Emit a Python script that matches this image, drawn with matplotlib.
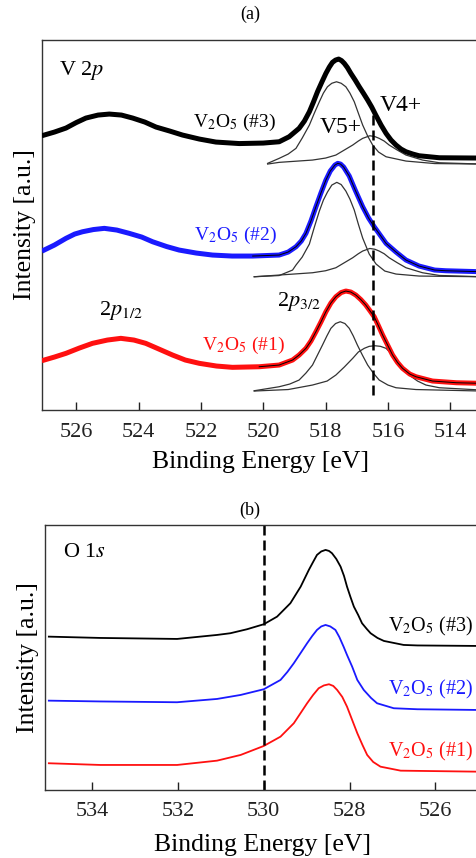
import numpy as np
from matplotlib import pyplot as plt

plt.rcParams["font.family"] = ["Liberation Serif", "DejaVu Serif"]
plt.rcParams["mathtext.fontset"] = "stix"

# ---- (a) V 2p: measured spectra (binding energy [eV], intensity [a.u.])
v2p_e_s3 = [527.03, 526.70, 526.33, 526.00, 525.69, 525.30, 524.94, 524.55,
            524.19, 523.80, 523.44, 523.00, 522.59, 522.05, 521.52, 520.77,
            520.00, 519.49, 519.17, 518.85, 518.68, 518.52, 518.39, 518.26,
            518.12, 517.99, 517.88, 517.78, 517.68, 517.58, 517.49, 517.40,
            517.30, 517.19, 517.05, 516.92, 516.79, 516.65, 516.52, 516.39,
            516.22, 516.06, 515.90, 515.74, 515.58, 515.42, 515.20, 515.00,
            514.35, 513.00]
v2p_i_s3 = [2.75, 2.78, 2.82, 2.875, 2.92, 2.95, 2.96, 2.95,
            2.92, 2.88, 2.83, 2.79, 2.75, 2.71, 2.68, 2.665,
            2.67, 2.683, 2.733, 2.817, 2.89, 2.983, 3.08, 3.183,
            3.28, 3.367, 3.43, 3.477, 3.50, 3.51, 3.495, 3.467,
            3.425, 3.367, 3.30, 3.233, 3.17, 3.10, 3.03, 2.95,
            2.85, 2.767, 2.70, 2.65, 2.61, 2.583, 2.56, 2.543,
            2.523, 2.52]

v2p_e_s2 = [527.03, 526.70, 526.33, 526.05, 525.80, 525.45, 525.10, 524.70,
            524.30, 523.90, 523.55, 523.10, 522.70, 522.15, 521.63, 521.00,
            520.34, 519.49, 519.20, 518.95, 518.78, 518.63, 518.47, 518.31,
            518.15, 517.99, 517.85, 517.70, 517.61, 517.52, 517.42, 517.24,
            517.05, 516.81, 516.62, 516.44, 516.25, 516.06, 515.74, 515.42,
            515.00, 514.50, 514.14, 513.00]
v2p_i_s2 = [1.60, 1.65, 1.717, 1.76, 1.783, 1.805, 1.817, 1.80,
            1.767, 1.73, 1.683, 1.635, 1.60, 1.57, 1.55, 1.54,
            1.54, 1.55, 1.58, 1.633, 1.69, 1.767, 1.89, 2.033,
            2.17, 2.30, 2.39, 2.45, 2.467, 2.46, 2.43, 2.34,
            2.20, 2.033, 1.92, 1.833, 1.75, 1.667, 1.58, 1.50,
            1.44, 1.40, 1.393, 1.383]

v2p_e_s1 = [527.03, 526.70, 526.33, 525.90, 525.48, 525.00, 524.57, 524.15,
            523.77, 523.35, 522.91, 522.50, 522.05, 521.50, 520.99, 520.13,
            519.49, 519.06, 518.85, 518.63, 518.47, 518.31, 518.15, 517.99,
            517.83, 517.67, 517.50, 517.35, 517.19, 517.03, 516.87, 516.71,
            516.57, 516.44, 516.30, 516.17, 516.01, 515.85, 515.69, 515.53,
            515.30, 515.10, 514.57, 513.80, 513.00]
v2p_i_s1 = [0.50, 0.53, 0.567, 0.62, 0.667, 0.70, 0.717, 0.70,
            0.667, 0.61, 0.55, 0.50, 0.467, 0.44, 0.427, 0.433,
            0.45, 0.50, 0.55, 0.617, 0.69, 0.783, 0.88, 0.983,
            1.07, 1.133, 1.175, 1.19, 1.18, 1.15, 1.105, 1.05,
            0.99, 0.933, 0.84, 0.75, 0.65, 0.55, 0.475, 0.417,
            0.36, 0.333, 0.29, 0.273, 0.267]

# fitted components: V5+ and V4+
v5_e_s3 = [519.86, 519.49, 519.20, 518.95, 518.75, 518.52, 518.36, 518.20,
           518.07, 517.94, 517.80, 517.65, 517.50, 517.35, 517.22, 517.08,
           516.95, 516.81, 516.65, 516.49, 516.30, 516.06, 515.42, 514.50,
           513.00]
v5_i_s3 = [2.467, 2.517, 2.56, 2.617, 2.72, 2.85, 2.97, 3.083,
           3.17, 3.233, 3.268, 3.283, 3.268, 3.233, 3.17, 3.083,
           2.97, 2.85, 2.74, 2.65, 2.58, 2.533, 2.49, 2.465,
           2.46]
v4_e_s3 = [519.86, 519.49, 518.42, 518.00, 517.67, 517.40, 517.13, 516.95,
           516.81, 516.58, 516.42, 516.28, 516.12, 515.96, 515.70, 515.42,
           514.89, 514.35, 513.00]
v4_i_s3 = [2.46, 2.477, 2.50, 2.52, 2.55, 2.60, 2.65, 2.69,
           2.717, 2.743, 2.735, 2.717, 2.69, 2.65, 2.60, 2.55,
           2.50, 2.473, 2.46]

v5_e_s2 = [520.29, 519.49, 519.06, 518.95, 518.75, 518.52, 518.36, 518.20,
           518.07, 517.94, 517.80, 517.64, 517.50, 517.35, 517.22, 517.08,
           516.95, 516.81, 516.60, 516.38, 516.10, 515.74, 515.00, 513.00]
v5_i_s2 = [1.333, 1.345, 1.40, 1.45, 1.53, 1.66, 1.83, 1.99,
           2.10, 2.18, 2.25, 2.277, 2.255, 2.19, 2.11, 2.00,
           1.86, 1.72, 1.56, 1.46, 1.39, 1.36, 1.34, 1.333]
v4_e_s2 = [520.29, 519.49, 518.42, 518.00, 517.67, 517.40, 517.13, 516.95,
           516.81, 516.58, 516.42, 516.28, 516.12, 515.96, 515.70, 515.42,
           514.89, 514.35, 513.00]
v4_i_s2 = [1.333, 1.35, 1.373, 1.393, 1.423, 1.473, 1.523, 1.563,
           1.59, 1.616, 1.608, 1.59, 1.563, 1.523, 1.473, 1.423,
           1.373, 1.346, 1.333]

v5_e_s1 = [520.29, 519.49, 519.15, 518.85, 518.63, 518.42, 518.26, 518.10,
           517.96, 517.83, 517.68, 517.53, 517.38, 517.24, 517.11, 516.98,
           516.82, 516.65, 516.47, 516.28, 516.00, 515.74, 515.10, 513.00]
v5_i_s1 = [0.193, 0.233, 0.26, 0.30, 0.37, 0.45, 0.55, 0.65,
           0.74, 0.817, 0.865, 0.883, 0.865, 0.817, 0.74, 0.65,
           0.55, 0.45, 0.37, 0.30, 0.25, 0.223, 0.205, 0.19]
v4_e_s1 = [520.29, 519.20, 518.42, 517.95, 517.67, 517.40, 517.13, 516.95,
           516.76, 516.60, 516.42, 516.24, 516.06, 515.90, 515.74, 515.53,
           515.32, 515.05, 514.78, 514.35, 513.00]
v4_i_s1 = [0.19, 0.205, 0.25, 0.29, 0.35, 0.43, 0.517, 0.58,
           0.617, 0.637, 0.643, 0.637, 0.617, 0.565, 0.50, 0.42,
           0.35, 0.29, 0.25, 0.223, 0.20]

v4_line_e = 516.47
v4_line_span = (0.15, 2.97)

# ---- (b) O 1s
o1s_e_s3 = [535.01, 533.81, 532.02, 531.09, 530.78, 530.39, 530.00, 529.69,
            529.38, 529.14, 528.95, 528.85, 528.76, 528.66, 528.56, 528.48,
            528.41, 528.31, 528.21, 528.13, 528.06, 527.98, 527.90, 527.80,
            527.71, 527.60, 527.51, 527.35, 527.20, 526.74, 526.42, 525.03]
o1s_i_s3 = [1.533, 1.52, 1.51, 1.55, 1.567, 1.607, 1.657, 1.733,
            1.867, 2.033, 2.20, 2.28, 2.35, 2.385, 2.40, 2.39,
            2.367, 2.31, 2.233, 2.14, 2.033, 1.93, 1.833, 1.75,
            1.667, 1.61, 1.567, 1.52, 1.49, 1.45, 1.445, 1.44]
o1s_e_s2 = [535.01, 533.81, 532.02, 531.09, 530.54, 530.00, 529.61, 529.45,
            529.30, 529.14, 528.99, 528.87, 528.76, 528.66, 528.56, 528.45,
            528.33, 528.24, 528.14, 528.06, 527.94, 527.82, 527.67, 527.50,
            527.36, 526.97, 526.42, 525.03]
o1s_i_s2 = [0.893, 0.885, 0.877, 0.91, 0.95, 1.007, 1.10, 1.18,
            1.267, 1.37, 1.467, 1.54, 1.60, 1.635, 1.65, 1.635,
            1.60, 1.53, 1.433, 1.35, 1.233, 1.10, 1.00, 0.92,
            0.867, 0.817, 0.807, 0.80]
o1s_e_s1 = [535.01, 533.81, 532.02, 531.09, 530.54, 530.00, 529.61, 529.30,
            529.14, 528.99, 528.85, 528.72, 528.60, 528.48, 528.38, 528.29,
            528.17, 528.06, 527.94, 527.82, 527.70, 527.59, 527.45, 527.28,
            526.81, 525.03]
o1s_i_s1 = [0.267, 0.25, 0.25, 0.293, 0.35, 0.44, 0.533, 0.667,
            0.77, 0.867, 0.95, 1.017, 1.045, 1.057, 1.04, 1.00,
            0.93, 0.833, 0.70, 0.567, 0.45, 0.35, 0.28, 0.233,
            0.193, 0.183]
o1s_line_e = 530.0

sample_labels = [r"V$_2$O$_5$ (#1)", r"V$_2$O$_5$ (#2)", r"V$_2$O$_5$ (#3)"]
sample_colors = ["#ff1010", "#1a1aff", "black"]

fig = plt.figure(figsize=(4.77, 8.58), dpi=100)
ax_a = fig.add_axes([0.088, 0.5221, 0.918, 0.4312])
ax_b = fig.add_axes([0.0943, 0.0793, 0.912, 0.3089])

# (a)
spectra = [(v2p_e_s1, v2p_i_s1), (v2p_e_s2, v2p_i_s2), (v2p_e_s3, v2p_i_s3)]
for (e, i), color in zip(spectra, sample_colors):
    ax_a.plot(e, i, color=color, lw=3.6, solid_joinstyle="round", zorder=3)
    e = np.array(e)
    mask = e <= 520.4
    ax_a.plot(e[mask], np.array(i)[mask], color="black", lw=0.7, zorder=4)

comps = [(v5_e_s1, v5_i_s1), (v4_e_s1, v4_i_s1),
         (v5_e_s2, v5_i_s2), (v4_e_s2, v4_i_s2),
         (v5_e_s3, v5_i_s3), (v4_e_s3, v4_i_s3)]
for e, i in comps:
    ax_a.plot(e, i, color="#333333", lw=0.9, zorder=2)

ax_a.vlines(v4_line_e, *v4_line_span, colors="black", linestyles=(0, (4, 2)),
            lw=1.8, zorder=5)

ax_a.text(526.55, 3.40, r"V 2$p$", fontsize=16, va="center")
ax_a.text(520.93, 2.88, sample_labels[2], fontsize=14, ha="center",
          va="center", color=sample_colors[2])
ax_a.text(520.9, 1.75, sample_labels[1], fontsize=14, ha="center",
          va="center", color=sample_colors[1])
ax_a.text(520.64, 0.65, sample_labels[0], fontsize=14, ha="center",
          va="center", color=sample_colors[0])
ax_a.text(517.53, 2.83, "V5+", fontsize=17, ha="center", va="center")
ax_a.text(515.6, 3.05, "V4+", fontsize=17, ha="center", va="center")
ax_a.text(524.56, 1.0, r"2$p_{1/2}$", fontsize=16, ha="center", va="center")
ax_a.text(518.85, 1.09, r"2$p_{3/2}$", fontsize=16, ha="center", va="center")

ax_a.set_xlim(527.1, 513.05)
ax_a.set_ylim(0, 3.7)
ax_a.set_xticks([526, 524, 522, 520, 518, 516, 514])

# (b)
o1s = [(o1s_e_s1, o1s_i_s1), (o1s_e_s2, o1s_i_s2), (o1s_e_s3, o1s_i_s3)]
for (e, i), color in zip(o1s, sample_colors):
    ax_b.plot(e, i, color=color, lw=1.3)
ax_b.axvline(o1s_line_e, color="black", linestyle=(0, (4, 2)), lw=1.8)

ax_b.text(534.69, 2.37, r"O 1$s$", fontsize=16, va="center")
for label, color, y in zip(sample_labels, sample_colors, [0.38, 1.0, 1.63]):
    ax_b.text(525.11, y, label, fontsize=14.5, ha="right", va="center",
              color=color)

ax_b.set_xlim(535.1, 524.96)
ax_b.set_ylim(0, 2.65)
ax_b.set_xticks([534, 532, 530, 528, 526])

for ax, lpad in ((ax_a, 7), (ax_b, 9)):
    ax.set_yticks([])
    ax.tick_params(axis="x", direction="in", length=6, width=1,
                   labelsize=16, pad=9, colors="#222222")
    ax.set_xlabel("Binding Energy [eV]", fontsize=18.5, labelpad=lpad)
    ax.set_ylabel("Intensity [a.u.]", fontsize=18.5, labelpad=4)
    for spine in ax.spines.values():
        spine.set_color("#333333")
        spine.set_linewidth(1.0)

fig.text(250 / 477, 1 - 14 / 858, "(a)", fontsize=13, ha="center",
         va="center")
fig.text(250 / 477, 1 - 510 / 858, "(b)", fontsize=13, ha="center",
         va="center")

fig.savefig("out.png", dpi=100)
